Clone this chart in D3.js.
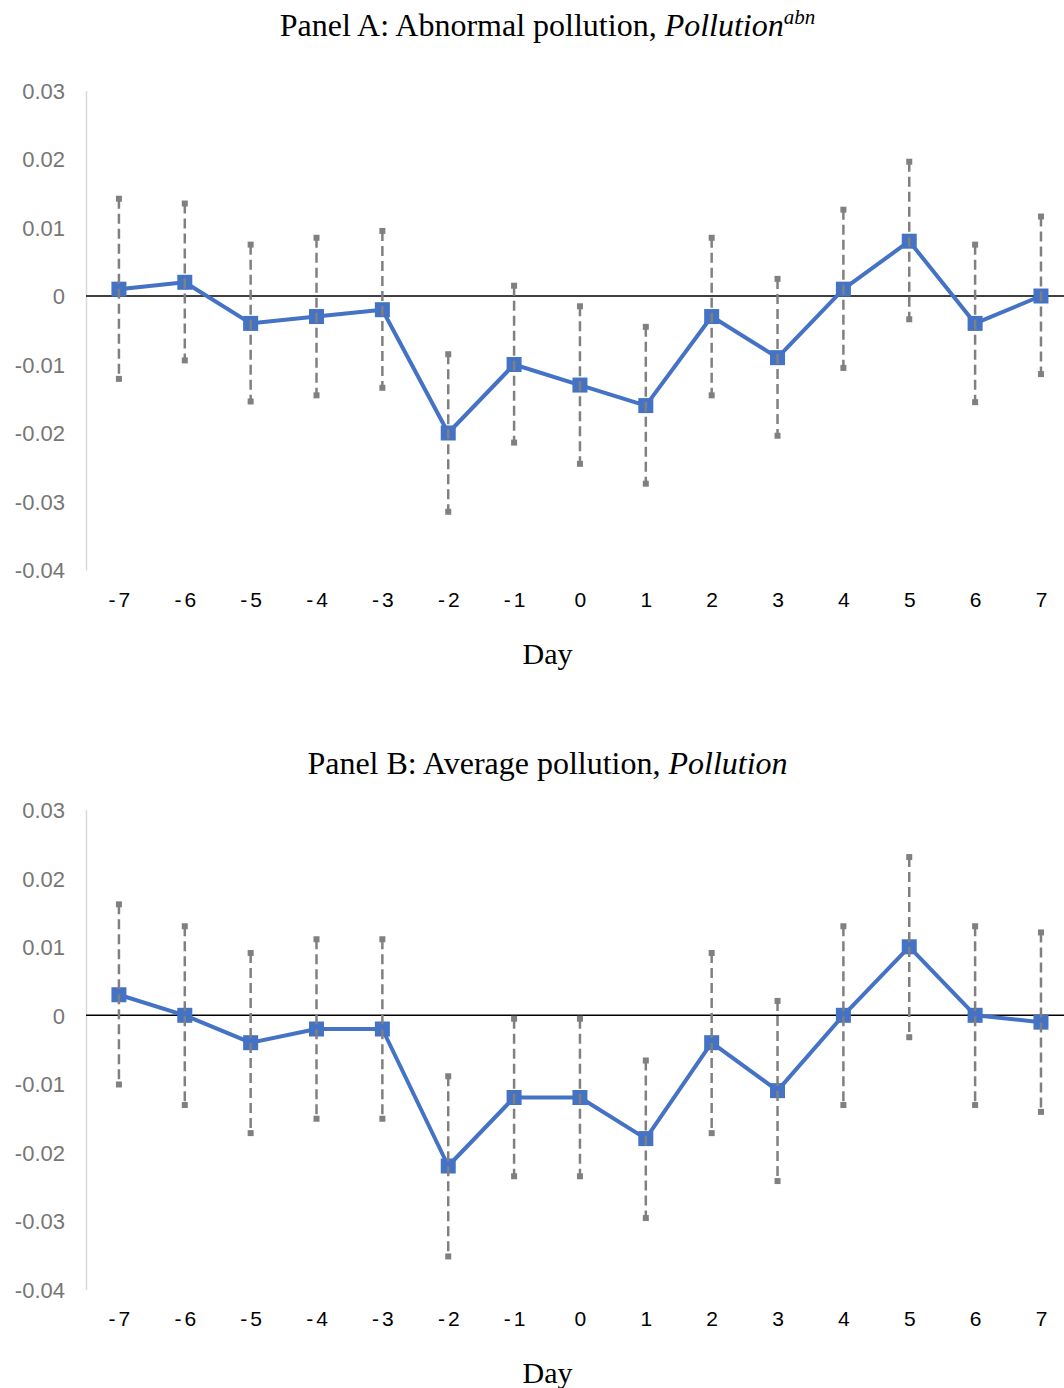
<!DOCTYPE html>
<html>
<head>
<meta charset="utf-8">
<script src="https://cdn.jsdelivr.net/npm/d3@7"></script>
<style>
  html, body { margin: 0; padding: 0; background: #fff; }
  svg { display: block; }
</style>
</head>
<body>
<svg id="chart" width="1064" height="1388"></svg>
<script>
// ---- Data ----
const days = ["-7","-6","-5","-4","-3","-2","-1","0","1","2","3","4","5","6","7"];
const yTickValues = [0.03, 0.02, 0.01, 0, -0.01, -0.02, -0.03, -0.04];
const yTickLabels = ["0.03", "0.02", "0.01", "0", "-0.01", "-0.02", "-0.03", "-0.04"];

const panelAValues = [0.001, 0.002, -0.004, -0.003, -0.002, -0.020, -0.010, -0.013, -0.016, -0.003, -0.009, 0.001, 0.008, -0.004, 0.000];
const panelAUpper  = [0.0142, 0.0135, 0.0075, 0.0085, 0.0095, -0.0085, 0.0015, -0.0015, -0.0045, 0.0085, 0.0025, 0.0126, 0.0196, 0.0075, 0.0116];
const panelALower  = [-0.0121, -0.0094, -0.0154, -0.0145, -0.0134, -0.0315, -0.0214, -0.0245, -0.0274, -0.0145, -0.0204, -0.0105, -0.0034, -0.0155, -0.0114];

const panelBValues = [0.003, 0.000, -0.004, -0.002, -0.002, -0.022, -0.012, -0.012, -0.018, -0.004, -0.011, 0.000, 0.010, 0.000, -0.001];
const panelBUpper  = [0.0162, 0.0130, 0.0091, 0.0111, 0.0111, -0.0089, -0.0005, -0.0005, -0.0066, 0.0091, 0.0021, 0.0130, 0.0231, 0.0130, 0.0121];
const panelBLower  = [-0.0101, -0.0131, -0.0172, -0.0151, -0.0151, -0.0352, -0.0235, -0.0235, -0.0296, -0.0172, -0.0242, -0.0131, -0.0032, -0.0131, -0.0141];

// ---- Drawing ----
const svg = d3.select("#chart");
const BLUE = "#4472C4";
const GREY = "#808080";

const plotLeft = 86;
const bandW = 65.86;
const x = d3.scalePoint().domain(days).range([plotLeft + bandW / 2, plotLeft + bandW / 2 + bandW * 14]);

function drawPanel(top, titleY, titleMain, titleItalic, titleSup, values, upper, lower) {
  const g = svg.append("g");
  const y = d3.scaleLinear().domain([-0.04, 0.03]).range([top + 479.5, top]);

  // Title
  const t = g.append("text")
    .attr("x", 547.5).attr("y", titleY)
    .attr("text-anchor", "middle")
    .style("font-family", "'Liberation Serif', 'Times New Roman', serif")
    .style("font-size", "32px")
    .attr("fill", "#000");
  t.append("tspan").text(titleMain);
  t.append("tspan").style("font-style", "italic").text(titleItalic);
  if (titleSup) {
    t.append("tspan").style("font-style", "italic").style("font-size", "21px")
      .attr("dy", -12).text(titleSup);
  }

  // Y axis
  const yAxis = d3.axisLeft(y).tickValues(yTickValues)
    .tickFormat((d, i) => yTickLabels[i]).tickSize(0).tickPadding(21);
  const ya = g.append("g").attr("transform", `translate(${plotLeft},0)`).call(yAxis);
  ya.select(".domain").attr("stroke", "#d9d9d9").attr("stroke-width", 1.5);
  ya.selectAll("text")
    .style("font-family", "'Liberation Sans', Arial, sans-serif")
    .style("font-size", "22px")
    .attr("fill", "#767676")
    .attr("dy", "0.35em");

  // Zero line
  g.append("line")
    .attr("x1", plotLeft).attr("x2", 1064)
    .attr("y1", y(0)).attr("y2", y(0))
    .attr("stroke", "#000").attr("stroke-width", 1.6);

  // X axis labels
  const xAxis = d3.axisBottom(x).tickSize(0).tickPadding(0);
  const xa = g.append("g").attr("transform", `translate(0,${top + 509})`).call(xAxis);
  xa.select(".domain").remove();
  xa.selectAll("text")
    .style("font-family", "'Liberation Sans', Arial, sans-serif")
    .style("font-size", "21px")
    .style("letter-spacing", "3px")
    .attr("fill", "#000")
    .attr("dy", "0.35em")
    .attr("dx", "1.5px")
    .attr("y", 0);

  // X title
  g.append("text")
    .attr("x", 547.5).attr("y", top + 573)
    .attr("text-anchor", "middle")
    .style("font-family", "'Liberation Serif', 'Times New Roman', serif")
    .style("font-size", "30px")
    .attr("fill", "#000")
    .text("Day");

  // Series line
  const line = d3.line().x((d, i) => x(days[i])).y(d => y(d));
  g.append("path").datum(values)
    .attr("d", line)
    .attr("fill", "none").attr("stroke", BLUE).attr("stroke-width", 4)
    .attr("stroke-linejoin", "round");

  // Markers
  const ms = 15;
  g.selectAll("rect.mk").data(values).enter().append("rect")
    .attr("class", "mk")
    .attr("x", (d, i) => x(days[i]) - ms / 2)
    .attr("y", d => y(d) - ms / 2)
    .attr("width", ms).attr("height", ms)
    .attr("fill", BLUE);

  // Error bars (drawn on top)
  g.selectAll("line.eb").data(days).enter().append("line")
    .attr("class", "eb")
    .attr("x1", d => x(d)).attr("x2", d => x(d))
    .attr("y1", (d, i) => y(upper[i])).attr("y2", (d, i) => y(lower[i]))
    .attr("stroke", GREY).attr("stroke-width", 2.5)
    .attr("stroke-dasharray", "10,5");
  const cs = 6;
  const caps = [];
  days.forEach((d, i) => { caps.push([d, upper[i]]); caps.push([d, lower[i]]); });
  g.selectAll("rect.cap").data(caps).enter().append("rect")
    .attr("class", "cap")
    .attr("x", d => x(d[0]) - cs / 2)
    .attr("y", d => y(d[1]) - cs / 2)
    .attr("width", cs).attr("height", cs)
    .attr("fill", GREY);
}

drawPanel(90.5, 36, "Panel A: Abnormal pollution, ", "Pollution", "abn", panelAValues, panelAUpper, panelALower);
drawPanel(809.8, 774, "Panel B: Average pollution, ", "Pollution", null, panelBValues, panelBUpper, panelBLower);
</script>
</body>
</html>
